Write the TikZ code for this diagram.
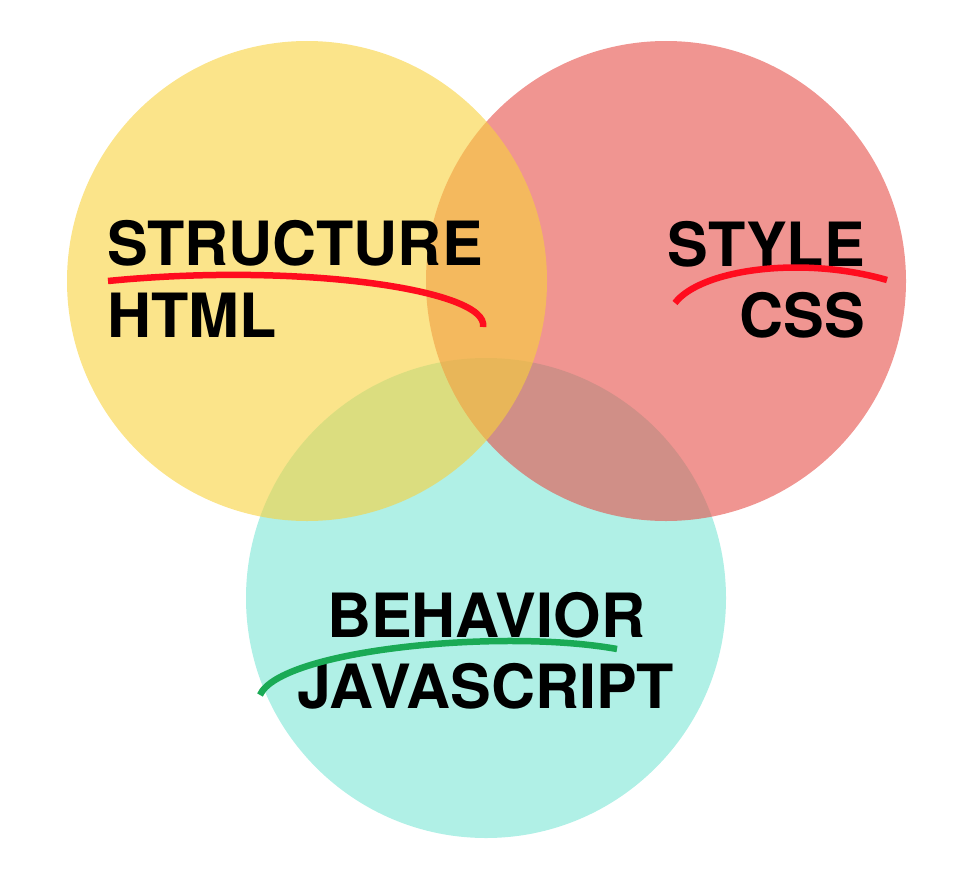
\documentclass[tikz,border=0pt]{standalone}
\usepackage{fontspec}
\setmainfont{TeX Gyre Heros}
\definecolor{htmlyellow}{RGB}{248,210,60}
\definecolor{cssred}{RGB}{230,78,72}
\definecolor{jsteal}{RGB}{123,230,213}
\definecolor{markred}{RGB}{255,12,30}
\definecolor{markgreen}{RGB}{26,170,85}
\tikzset{
  blob/.style={circle,minimum size=480pt,inner sep=0pt,fill opacity=0.6},
  word/.style={inner sep=0pt,font=\fontsize{61}{61}\selectfont\bfseries},
  underline/.style={line width=6.5pt}
}
\begin{document}
\begin{tikzpicture}[x=1pt,y=-1pt]
  \useasboundingbox (0,0) rectangle (966,872);
  % draw behavior circle
  \node at(486,598)[blob,fill=jsteal](js){};
  % draw style circle
  \node at(666,281)[blob,fill=cssred](css){};
  % draw structure circle
  \node at(307,281)[blob,fill=htmlyellow](html){};
  % draw structure text
  \node at(107,265)[word,anchor=base west](structure){STRUCTURE};
  \node at(107,337)[word,anchor=base west](htmltext){HTML};
  % draw style text
  \node at(865,266)[word,anchor=base east](style){STYLE};
  \node at(865,337)[word,anchor=base east](csstext){CSS};
  % draw behavior text
  \node at(486,637)[word,anchor=base](behavior){BEHAVIOR};
  \node at(486,708)[word,anchor=base](jstext){JAVASCRIPT};
  % draw underlines
  \draw [underline,markred](108,281) .. controls (300,262) and (490,290) .. (483,327);
  \draw [underline,markred](675,303) .. controls (700,270) and (800,255) .. (887,280);
  \draw [underline,markgreen](260,695) .. controls (280,650) and (500,628) .. (617,649);
\end{tikzpicture}
\end{document}
